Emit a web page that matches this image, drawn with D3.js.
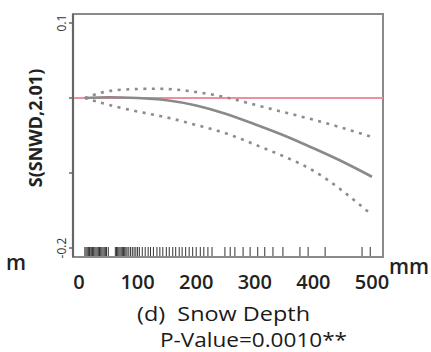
<!DOCTYPE html>
<html>
<head>
<meta charset="utf-8">
<script src="https://d3js.org/d3.v7.min.js"></script>
<style>
  body { margin: 0; background: #fff; }
  svg { display: block; }
</style>
</head>
<body>
<svg id="chart" width="431" height="352"></svg>
<script>
// snow depth (mm) where the smooth is evaluated
var depth = [10, 50, 100, 150, 200, 250, 300, 350, 400, 450, 500];
var fitVal = [0, 0.001, 0, -0.003, -0.010, -0.021, -0.035, -0.050, -0.067, -0.085, -0.105];
var upperVal = [0, 0.009, 0.012, 0.012, 0.008, 0.001, -0.009, -0.019, -0.029, -0.040, -0.052];
var lowerVal = [0, -0.009, -0.018, -0.026, -0.036, -0.047, -0.062, -0.078, -0.097, -0.124, -0.156];

// observed snow depths (rug)
var rugVal = [10, 12, 14, 16, 18, 19, 21, 23, 25, 27, 29, 31, 33, 35, 37, 39, 41, 43, 45, 47, 50,
  62, 64, 66, 68, 70, 72, 74, 76, 78, 80, 82, 85, 88, 91, 94, 97, 100, 103,
  108, 113, 118, 122, 127, 133, 138, 143, 149, 154, 160, 165, 171, 176, 182, 188, 194, 200,
  207, 213, 220, 227, 249, 258, 266, 280, 292, 305, 317, 331, 348, 377, 391, 420, 483, 497];

var xTicks = [0, 100, 200, 300, 400, 500];
var yTicks = [0.1, 0, -0.1, -0.2];
var yTickLabels = {"0.1": "0.1", "-0.2": "-0.2"};

var svg = d3.select("#chart");
var pLeft = 73, pRight = 383, pTop = 14, pBottom = 257;

var x = d3.scaleLinear().domain([0, 500]).range([79, 372]);
var y = d3.scaleLinear().domain([0.1, -0.2]).range([23, 248]);

var font = "'Open Sans', 'DejaVu Sans', sans-serif";

// frame
svg.append("rect")
  .attr("x", pLeft).attr("y", pTop)
  .attr("width", pRight - pLeft).attr("height", pBottom - pTop)
  .attr("fill", "none").attr("stroke", "#8a8a8a").attr("stroke-width", 2);
svg.append("line")
  .attr("x1", pLeft).attr("x2", pLeft).attr("y1", pTop).attr("y2", pBottom)
  .attr("stroke", "#666").attr("stroke-width", 2.2);

// y ticks
svg.selectAll(".ytick").data(yTicks).enter().append("line")
  .attr("x1", pLeft - 4).attr("x2", pLeft)
  .attr("y1", function(d) { return y(d); }).attr("y2", function(d) { return y(d); })
  .attr("stroke", "#666").attr("stroke-width", 1.5);

svg.selectAll(".ylab").data(yTicks.filter(function(d) { return yTickLabels[d] != null; }))
  .enter().append("text")
  .attr("transform", function(d) { return "translate(66," + y(d) + ") rotate(-90)"; })
  .attr("text-anchor", "middle")
  .attr("font-family", font).attr("font-size", 12).attr("fill", "#333")
  .text(function(d) { return yTickLabels[d]; });

// y title
svg.append("text")
  .attr("transform", "translate(42,128) rotate(-90)")
  .attr("text-anchor", "middle")
  .attr("font-family", font).attr("font-size", 18).attr("font-weight", "bold")
  .attr("fill", "#222")
  .text("S(SNWD,2.01)");

// zero reference line
svg.append("line")
  .attr("x1", pLeft + 1).attr("x2", pRight)
  .attr("y1", y(0)).attr("y2", y(0))
  .attr("stroke", "#f0909a").attr("stroke-width", 2);

var line = d3.line().curve(d3.curveNatural);

function pts(vals) {
  return depth.map(function(d, i) { return [x(d), y(vals[i])]; });
}

svg.append("path").attr("d", line(pts(upperVal)))
  .attr("fill", "none").attr("stroke", "#8c8c8c").attr("stroke-width", 2.6)
  .attr("stroke-dasharray", "3,5.5");
svg.append("path").attr("d", line(pts(lowerVal)))
  .attr("fill", "none").attr("stroke", "#8c8c8c").attr("stroke-width", 2.6)
  .attr("stroke-dasharray", "3,5.5");
svg.append("path").attr("d", line(pts(fitVal)))
  .attr("fill", "none").attr("stroke", "#8a8a8a").attr("stroke-width", 2.6);

// rug
svg.selectAll(".rug").data(rugVal).enter().append("line")
  .attr("x1", function(d) { return x(d); }).attr("x2", function(d) { return x(d); })
  .attr("y1", pBottom - 10).attr("y2", pBottom - 1)
  .attr("stroke", "#333").attr("stroke-width", 1);

// x tick labels
svg.selectAll(".xlab").data(xTicks).enter().append("text")
  .attr("x", function(d) { return x(d); }).attr("y", 289)
  .attr("text-anchor", "middle")
  .attr("font-family", font).attr("font-size", 20).attr("font-weight", 600).attr("fill", "#222")
  .text(function(d) { return d; });

svg.append("text").attr("x", 389).attr("y", 274)
  .attr("font-family", font).attr("font-size", 21).attr("font-weight", 600).attr("fill", "#222").text("mm");
svg.append("text").attr("x", 6).attr("y", 270)
  .attr("font-family", font).attr("font-size", 21).attr("font-weight", 600).attr("fill", "#222").text("m");

svg.append("text").attr("x", 137).attr("y", 321)
  .attr("font-family", font).attr("font-size", 20).attr("fill", "#1a1a1a")
  .attr("xml:space", "preserve")
  .attr("textLength", 173).attr("lengthAdjust", "spacingAndGlyphs")
  .text("(d)  Snow Depth");

svg.append("text").attr("x", 160).attr("y", 347)
  .attr("font-family", font).attr("font-size", 20).attr("fill", "#1a1a1a")
  .attr("textLength", 187).attr("lengthAdjust", "spacingAndGlyphs")
  .text("P-Value=0.0010**");
</script>
</body>
</html>
